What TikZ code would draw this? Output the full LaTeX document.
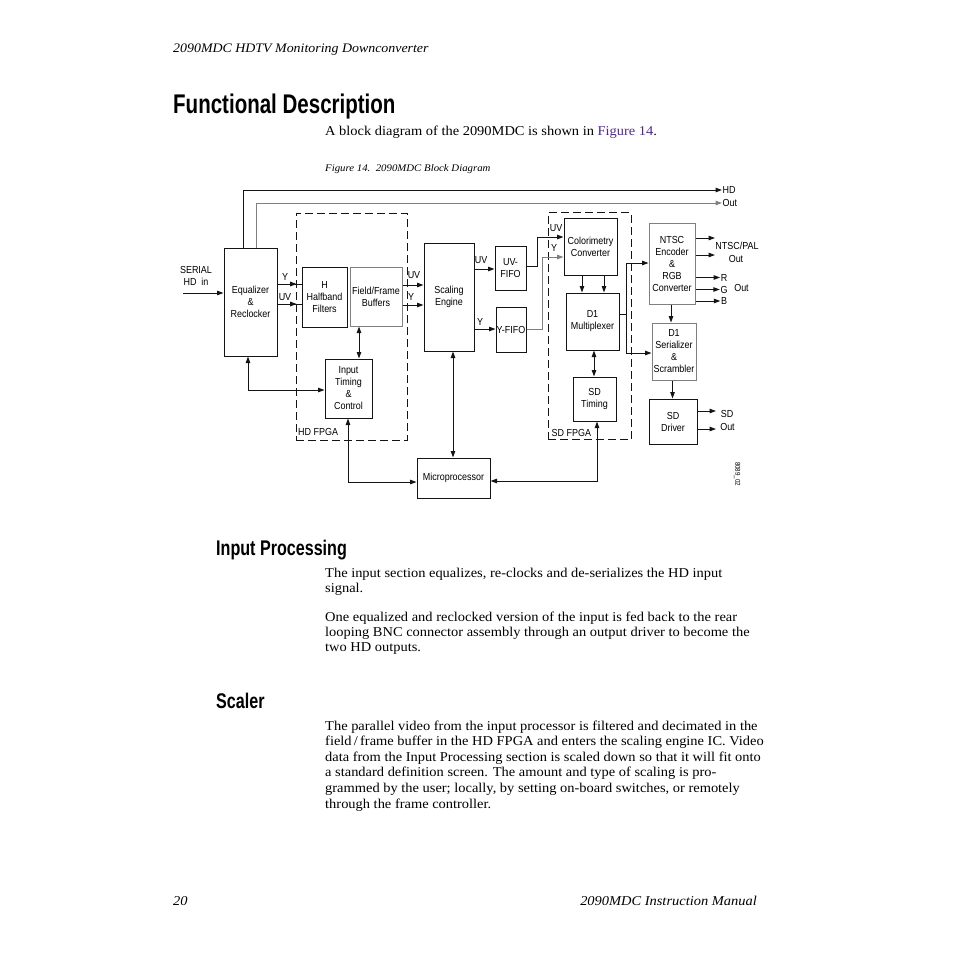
\documentclass[tikz,border=0pt]{standalone}
\usepackage{fontspec}
\setmainfont{Liberation Serif}
\newfontfamily\bodyfont[FakeStretch=1.07]{Liberation Serif}
\newfontfamily\headfont[FakeStretch=0.76]{Liberation Sans}
\newfontfamily\diagfont[FakeStretch=0.88]{Liberation Sans}
\usetikzlibrary{arrows.meta,decorations.markings}
\definecolor{linkpurple}{RGB}{80,40,150}
\definecolor{ink}{RGB}{20,20,20}
\newcommand\dfont{\diagfont\fontsize{10.2}{12}\selectfont}
\newcommand\btext{\bodyfont\fontsize{13.5}{15.5}\selectfont}
\newcommand\itext{\bodyfont\itshape\fontsize{13.5}{15.5}\selectfont}
\newcommand\hdrtext{\bodyfont\itshape\fontsize{13}{15}\selectfont}
\newcommand\captext{\bodyfont\itshape\fontsize{10.1}{12}\selectfont}
\newcommand\hbig{\headfont\bfseries\fontsize{27}{30}\selectfont}
\newcommand\hmid{\headfont\bfseries\fontsize{21.2}{24}\selectfont}
\begin{document}
\begin{tikzpicture}[x=1pt,y=-1pt,
  box/.style={draw=ink, line width=1pt, align=center, inner sep=0pt, font=\dfont},
  gbox/.style={box, draw=gray},
  fpga/.style={draw=ink, line width=1pt, dash pattern=on 8pt off 4pt, inner sep=0pt},
  conn/.style={draw=ink, line width=1pt},
  arr/.style={conn, -{Triangle[length=6.5pt,width=4.5pt]}},
  darr/.style={conn, {Triangle[length=6.5pt,width=4.5pt]}-{Triangle[length=6.5pt,width=4.5pt]}},
  midarr/.style={conn, postaction={decorate}, decoration={markings, mark=at position #1 with {\arrow{Triangle[length=6.5pt,width=4.5pt]}}}},
  lbl/.style={font=\dfont, inner sep=0.5pt, align=center},
  body/.style={anchor=base west, inner sep=0pt, font=\btext},
]
\useasboundingbox (0,0) rectangle (954,954);
\fill[white] (0,0) rectangle (954,954);

% ---------- page text ----------
\node[anchor=base west, inner sep=0pt, font=\hdrtext] (hdr) at (173,52) {2090MDC HDTV Monitoring Downconverter};
\node[anchor=base west, inner sep=0pt, font=\hbig] (h1) at (173,113) {Functional Description};
\node[body] (intro) at (325,135) {A block diagram of the 2090MDC is shown in \textcolor{linkpurple}{Figure 14}.};
\node[anchor=base west, inner sep=0pt, font=\captext] (cap) at (325,171) {Figure 14.\ \ 2090MDC Block Diagram};

\node[anchor=base west, inner sep=0pt, font=\hmid] (h2) at (216,555) {Input Processing};
\node[body] (p1a) at (325,577.5) {The input section equalizes, re-clocks and de-serializes the HD input};
\node[body] (p1b) at (325,592.5) {signal.};
\node[body] (p2a) at (325,621.5) {One equalized and reclocked version of the input is fed back to the rear};
\node[body] (p2b) at (325,636.5) {looping BNC connector assembly through an output driver to become the};
\node[body] (p2c) at (325,651.5) {two HD outputs.};

\node[anchor=base west, inner sep=0pt, font=\hmid] (h3) at (216,708) {Scaler};
\node[body] (s1) at (325,730.5) {The parallel video from the input processor is filtered and decimated in the};
\node[body] (s2) at (325,745.5) {field\,/\,frame buffer in the HD FPGA and enters the scaling engine IC. Video};
\node[body] (s3) at (325,761.5) {data from the Input Processing section is scaled down so that it will fit onto};
\node[body] (s4) at (325,776.5) {a standard definition screen. The amount and type of scaling is pro-};
\node[body] (s5) at (325,792.5) {grammed by the user; locally, by setting on-board switches, or remotely};
\node[body] (s6) at (325,808.5) {through the frame controller.};

\node[anchor=base west, inner sep=0pt, font=\itext] (pg) at (173,905) {20};
\node[anchor=base east, inner sep=0pt, font=\itext] (ftr) at (757,905) {2090MDC Instruction Manual};

% ---------- diagram: FPGA outlines ----------
\node[fpga, minimum width=111pt, minimum height=227pt] (hdfpga) at (351.5,326.5) {};
\node[fpga, minimum width=83pt, minimum height=227pt] (sdfpga) at (589.5,326) {};
\node[lbl, anchor=west] (hdfl) at (297.5,432) {HD FPGA};
\node[lbl, anchor=west] (sdfl) at (551,433) {SD FPGA};

% ---------- blocks ----------
\node[box, minimum width=53pt, minimum height=108pt] (eq) at (250.5,302) {Equalizer\\\&\\Reclocker};
\node[box, minimum width=45pt, minimum height=60pt] (hhf) at (324.5,297) {H\\Halfband\\Filters};
\node[gbox, minimum width=52pt, minimum height=59pt] (ffb) at (376,296.5) {Field/Frame\\Buffers};
\node[box, minimum width=47pt, minimum height=59pt] (itc) at (348.5,388.5) {Input\\Timing\\\&\\Control};
\node[box, minimum width=50pt, minimum height=108pt] (se) at (449,297) {Scaling\\Engine};
\node[box, minimum width=31pt, minimum height=44pt] (uvf) at (510.5,268) {UV-\\FIFO};
\node[box, minimum width=30pt, minimum height=45pt] (yf) at (511,329.5) {Y-FIFO};
\node[box, minimum width=53pt, minimum height=57pt] (cc) at (590.5,246.5) {Colorimetry\\Converter};
\node[box, minimum width=53pt, minimum height=57pt] (d1m) at (592.5,321.5) {D1\\Multiplexer};
\node[box, minimum width=43pt, minimum height=44pt] (sdt) at (594.5,399) {SD\\Timing};
\node[box, minimum width=73pt, minimum height=40pt] (mp) at (453.5,478) {Microprocessor};
\node[gbox, minimum width=46pt, minimum height=81pt] (ntsc) at (672,263.5) {NTSC\\Encoder\\\&\\RGB\\Converter};
\node[gbox, minimum width=44pt, minimum height=57pt] (d1s) at (674,351.5) {D1\\Serializer\\\&\\Scrambler};
\node[box, minimum width=48pt, minimum height=45pt] (sdd) at (673,421.5) {SD\\Driver};

% ---------- labels ----------
\node[lbl] (serl) at (196,275.5) {SERIAL\\HD\ \ in};
\node[lbl, anchor=west] (hdl) at (722,190) {HD};
\node[lbl, anchor=west] (outl) at (722,203) {Out};
\node[lbl] (ly1) at (285,277) {Y};
\node[lbl] (luv1) at (285,297) {UV};
\node[lbl] (luv2) at (414,275) {UV};
\node[lbl] (ly2) at (411,297) {Y};
\node[lbl] (luv3) at (481,260) {UV};
\node[lbl] (ly3) at (480,322) {Y};
\node[lbl] (luv4) at (556,228) {UV};
\node[lbl] (ly4) at (554,248) {Y};
\node[lbl] (ntscl) at (737,246) {NTSC/PAL};
\node[lbl] (ntsco) at (736,258.5) {Out};
\node[lbl] (lr) at (724,277.5) {R};
\node[lbl] (lg) at (724,289.5) {G};
\node[lbl] (lb) at (724,301) {B};
\node[lbl] (rgbo) at (741.5,287.5) {Out};
\node[lbl] (sdl) at (727,414) {SD};
\node[lbl] (sdo) at (727.5,426.5) {Out};
\node[lbl, rotate=-90, font=\diagfont\fontsize{7}{8}\selectfont] (fig) at (737,474) {8089\_02};

% ---------- connectors ----------
\coordinate (inS) at (183,293);
\draw[arr] (inS) -- (eq.west |- inS);
\draw[arr] (eq.north -| 243,0) |- (hdl.west);
\draw[arr, draw=gray] (eq.north -| 256,0) |- (outl.west);

\draw[midarr=0.8] (eq.east |- 0,284) -- (hhf.west |- 0,284);
\draw[midarr=0.8] (eq.east |- 0,304) -- (hhf.west |- 0,304);

\draw[arr] (ffb.east |- 0,285) -- (se.west |- 0,285);
\draw[arr] (ffb.east |- 0,305) -- (se.west |- 0,305);

\draw[arr] (se.east |- 0,269) -- (uvf.west |- 0,269);
\draw[arr] (se.east |- 0,329) -- (yf.west |- 0,329);

\draw[arr] (uvf.east |- 0,266) -- (537,266) -- (537,237) -- (cc.west |- 0,237);
\draw[arr, draw=gray] (yf.east |- 0,329) -- (542,329) -- (542,257) -- (cc.west |- 0,257);

\draw[arr] (cc.south -| 582,0) -- (d1m.north -| 582,0);
\draw[arr] (cc.south -| 604,0) -- (d1m.north -| 604,0);
\draw[darr] (d1m.south -| 594,0) -- (sdt.north -| 594,0);
\draw[darr] (se.south -| 453,0) -- (mp.north -| 453,0);
\draw[darr] (sdt.south -| 597,0) -- (597,481) -- (mp.east |- 0,481);
\draw[darr] (ffb.south -| 359,0) -- (itc.north -| 359,0);
\draw[darr] (eq.south -| 248,0) -- (248,390) -- (itc.west |- 0,390);
\draw[darr] (itc.south -| 348,0) -- (348,482) -- (mp.west |- 0,482);

\coordinate (spl) at (626,314);
\draw[conn] (d1m.east |- spl) -- (spl);
\draw[arr] (spl) |- (ntsc.west |- 0,263);
\draw[arr] (spl) |- (d1s.west |- 0,353);

\draw[arr] (ntsc.south -| 671,0) -- (d1s.north -| 671,0);
\draw[arr] (d1s.south -| 672.5,0) -- (sdd.north -| 672.5,0);

\draw[arr] (ntsc.east |- 0,238) -- (715,238);
\draw[arr] (ntsc.east |- 0,255) -- (715,255);
\draw[arr] (ntsc.east |- lr) -- (lr.west);
\draw[arr] (ntsc.east |- lg) -- (lg.west);
\draw[arr] (ntsc.east |- lb) -- (lb.west);
\draw[arr] (sdd.east |- 0,411) -- (716,411);
\draw[arr] (sdd.east |- 0,429) -- (716,429);
\end{tikzpicture}
\end{document}
